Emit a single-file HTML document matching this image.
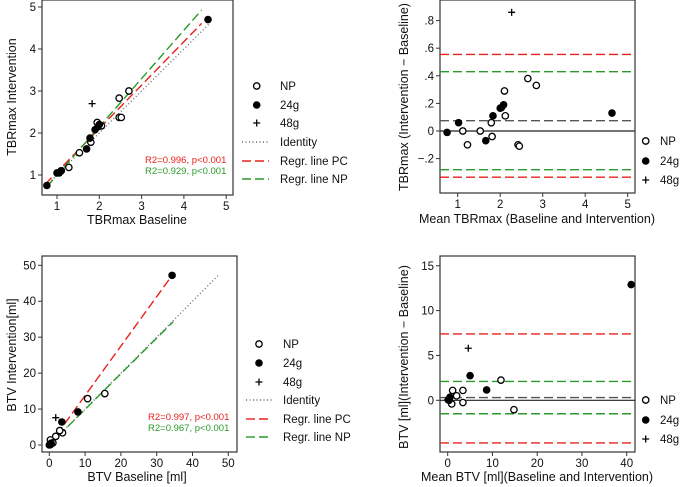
<!DOCTYPE html>
<html><head><meta charset="utf-8"><style>
body{margin:0;background:#fff;}
svg{display:block;font-family:"Liberation Sans",sans-serif;}
</style></head><body>
<svg id="fig" width="685" height="487" viewBox="0 0 685 487"></svg>
<script>
// Panel A: TBRmax scatter
const aNPx=[1.1,1.28,1.53,1.8,1.95,2.05,2.47,2.47,2.52,2.7];
const aNPy=[1.1,1.18,1.53,1.78,2.25,2.17,2.83,2.37,2.37,3.0];
const a24x=[0.76,1.0,1.05,1.1,1.7,1.78,1.9,1.97,2.0,4.57];
const a24y=[0.75,1.05,1.05,1.1,1.62,1.88,2.08,2.15,2.2,4.7];
const a48x=[1.83];const a48y=[2.7];
const aIdent=[0.75,4.6];
const aRedX=[0.72,4.42];const aRedY=[0.78,4.61];
const aGrnX=[0.76,4.42];const aGrnY=[0.72,4.93];
const aTicks=[1,2,3,4,5];
// Panel B: TBRmax Bland-Altman
const bNPx=[1.12,1.23,1.53,1.79,1.81,2.1,2.12,2.42,2.45,2.65,2.85];
const bNPy=[0,-0.1,0,0.06,-0.04,0.29,0.11,-0.1,-0.11,0.38,0.33];
const b24x=[0.75,1.02,1.66,1.83,2.0,2.03,2.08,4.63];
const b24y=[-0.01,0.06,-0.07,0.11,0.165,0.17,0.19,0.13];
const b48x=[2.27];const b48y=[0.86];
const bLines=[0.555,0.43,0.075,-0.28,-0.335];
const bLineColors=["#e8211d","#2a9a2a","#555","#2a9a2a","#e8211d"];
const bXTicks=[1,2,3,4,5];
const bYTicks=[0.8,0.6,0.4,0.2,0,-0.2];
const bYLabels=[".8",".6",".4",".2","0","−.2"];
// Panel C: BTV scatter
const cNPx=[15.5,10.7,3.7,2.9,1.8,0.3,1.0,0.5,0.2];
const cNPy=[14.3,12.9,3.4,4.0,2.4,1.4,0.6,0.3,0.1];
const c24x=[34.3,8,3.5,0.3,0.5,0];
const c24y=[47.2,9.2,6.4,0.1,0.5,0];
const c48x=[1.8];const c48y=[7.6];
const cIdent=[0,47.2];
const cRedX=[0,34.3];const cRedY=[0,47.2];
const cGrnX=[0,34.6];const cGrnY=[0,34.3];
const cTicks=[0,10,20,30,40,50];
// Panel D: BTV Bland-Altman
const dNPx=[11.9,14.8,3.4,3.4,1.1,2.0,0.9];
const dNPy=[2.25,-1.05,1.1,-0.25,1.1,0.5,-0.4];
const d24x=[41,5,8.7,0.3,0.5,0.1];
const d24y=[12.9,2.75,1.15,0,0.35,0.05];
const d48x=[4.6];const d48y=[5.8];
const dLines=[7.4,2.1,0.3,-1.5,-4.75];
const dXTicks=[0,10,20,30,40];
const dYTicks=[15,10,5,0];

const svg=document.getElementById('fig');
const NS="http://www.w3.org/2000/svg";
function el(tag,attrs,parent){const e=document.createElementNS(NS,tag);for(const k in attrs)e.setAttribute(k,attrs[k]);(parent||svg).appendChild(e);return e;}
function txt(s,x,y,attrs,parent){const t=el('text',Object.assign({x:x,y:y,'font-size':11.5,fill:'#111'},attrs),parent);t.textContent=s;return t;}

function panel(name,box){
  const g=el('g',{});
  
  
  const r=el('rect',{x:box[0],y:box[1],width:box[2]-box[0],height:box[3]-box[1],fill:'none',stroke:'#333','stroke-width':1.2},g);
  
  
  return g;
}
function xTicks(g,ticks,labels,sx,yb){
  ticks.forEach((t,i)=>{
    const x=sx(t);
    el('line',{x1:x,x2:x,y1:yb,y2:yb+4,stroke:'#333'},g);
    const l=txt(labels?labels[i]:String(t),x,yb+15,{'text-anchor':'middle'},g);
    
    
  });
}
function yTicks(g,ticks,labels,sy,xl){
  ticks.forEach((t,i)=>{
    const y=sy(t);
    el('line',{x1:xl-4,x2:xl,y1:y,y2:y,stroke:'#333'},g);
    const l=txt(labels?labels[i]:String(t),xl-6,y+4,{'text-anchor':'end'},g);
    
    
  });
}
function points(g,xs,ys,sx,sy,kind){
  xs.forEach((v,i)=>{
    const x=sx(v),y=sy(ys[i]);let p;
    if(kind==='open')p=el('circle',{cx:x,cy:y,r:3.2,fill:'#fff',stroke:'#000','stroke-width':1.3},g);
    else if(kind==='filled')p=el('circle',{cx:x,cy:y,r:3.8,fill:'#000'},g);
    else p=el('path',{d:`M${x-3.5} ${y}H${x+3.5}M${x} ${y-3.5}V${y+3.5}`,stroke:'#000','stroke-width':1.3},g);
    
    
  });
}
function legend(g,x0,xt,ys,withLines,lx1,lx2){
  const names=['NP','24g','48g','Identity','Regr. line PC','Regr. line NP'];
  const kinds=['open','filled','plus'];
  for(let i=0;i<(withLines?6:3);i++){
    const y=ys[i];
    if(i<3)points(g,[0],[0],()=>x0,()=>y,kinds[i]);
    else{
      const st=i===3?{stroke:'#666','stroke-dasharray':'1 2.5'}:{stroke:i===4?'#e8211d':'#2a9a2a','stroke-dasharray':'9 4'};
      el('line',Object.assign({x1:lx1,x2:lx2,y1:y,y2:y,'stroke-width':1.4},st),g);
    }
    const t=txt(names[i],xt,y+4,{'font-size':11.5},g);
    
    
  }
}
function title(g,s,x,y,rot){
  const t=txt(s,x,y,{'text-anchor':'middle','font-size':12.5,transform:rot?`rotate(-90 ${x} ${y})`:''},g);
  
  
}

// ---- Panel A
{
  const sx=v=>14.7+42.3*v, sy=v=>175-42*(v-1);
  const g=panel('tbr-scatter-panel',[42,0,233,195]);
  xTicks(g,aTicks,null,sx,195);yTicks(g,aTicks,null,sy,42);
  el('line',{x1:sx(aIdent[0]),y1:sy(aIdent[0]),x2:sx(aIdent[1]),y2:sy(aIdent[1]),stroke:'#666','stroke-width':1.3,'stroke-dasharray':'1 2.5'},g);
  el('line',{x1:sx(aRedX[0]),y1:sy(aRedY[0]),x2:sx(aRedX[1]),y2:sy(aRedY[1]),stroke:'#e8211d','stroke-width':1.4,'stroke-dasharray':'9 4'},g);
  el('line',{x1:sx(aGrnX[0]),y1:sy(aGrnY[0]),x2:sx(aGrnX[1]),y2:sy(aGrnY[1]),stroke:'#2a9a2a','stroke-width':1.4,'stroke-dasharray':'9 4'},g);
  points(g,aNPx,aNPy,sx,sy,'open');points(g,a24x,a24y,sx,sy,'filled');points(g,a48x,a48y,sx,sy,'plus');
  txt('R2=0.996, p<0.001',145,163,{'font-size':9.5,fill:'#e8211d'},g);
  txt('R2=0.929, p<0.001',145,174,{'font-size':9.5,fill:'#2a9a2a'},g);
  legend(g,256.7,280,[86,105,123,142,161,179],true,242,269);
  title(g,'TBRmax Baseline',137,224,false);
  title(g,'TBRmax Intervention',16,97,true);
}
// ---- Panel B
{
  const sx=v=>415.2+42.5*v, sy=v=>131-138*v;
  const g=panel('tbr-bland-altman-panel',[440,0,635,193]);
  xTicks(g,bXTicks,null,sx,193);yTicks(g,bYTicks,bYLabels,sy,440);
  bLines.forEach((v,i)=>el('line',{x1:440,x2:635,y1:sy(v),y2:sy(v),stroke:bLineColors[i],'stroke-width':1.4,'stroke-dasharray':'9 4'},g));
  el('line',{x1:440,x2:635,y1:sy(0),y2:sy(0),stroke:'#222','stroke-width':1.2},g);
  points(g,bNPx,bNPy,sx,sy,'open');points(g,b24x,b24y,sx,sy,'filled');points(g,b48x,b48y,sx,sy,'plus');
  legend(g,645.7,660,[141,161,180],false);
  title(g,'Mean TBRmax (Baseline and Intervention)',537,223,false);
  title(g,'TBRmax (Intervention − Baseline)',408,97,true);
}
// ---- Panel C
{
  const sx=v=>49.3+3.58*v, sy=v=>445-3.594*v;
  const g=panel('btv-scatter-panel',[42,256,237,452]);
  xTicks(g,cTicks,null,sx,452);yTicks(g,cTicks,null,sy,42);
  el('line',{x1:sx(cIdent[0]),y1:sy(cIdent[0]),x2:sx(cIdent[1]),y2:sy(cIdent[1]),stroke:'#666','stroke-width':1.3,'stroke-dasharray':'1 2.5'},g);
  el('line',{x1:sx(cRedX[0]),y1:sy(cRedY[0]),x2:sx(cRedX[1]),y2:sy(cRedY[1]),stroke:'#e8211d','stroke-width':1.4,'stroke-dasharray':'9 4'},g);
  el('line',{x1:sx(cGrnX[0]),y1:sy(cGrnY[0]),x2:sx(cGrnX[1]),y2:sy(cGrnY[1]),stroke:'#2a9a2a','stroke-width':1.4,'stroke-dasharray':'9 4'},g);
  points(g,cNPx,cNPy,sx,sy,'open');points(g,c24x,c24y,sx,sy,'filled');points(g,c48x,c48y,sx,sy,'plus');
  txt('R2=0.997, p<0.001',148,420,{'font-size':9.5,fill:'#e8211d'},g);
  txt('R2=0.967, p<0.001',148,431,{'font-size':9.5,fill:'#2a9a2a'},g);
  legend(g,259,283,[344,363,382,400,419,437],true,246,272);
  title(g,'BTV Baseline [ml]',137,481,false);
  title(g,'BTV Intervention[ml]',16,355,true);
}
// ---- Panel D
{
  const sx=v=>447.7+4.475*v, sy=v=>400.3-8.97*v;
  const g=panel('btv-bland-altman-panel',[440,256,635,452]);
  xTicks(g,dXTicks,null,sx,452);yTicks(g,dYTicks,null,sy,440);
  dLines.forEach((v,i)=>el('line',{x1:440,x2:635,y1:sy(v),y2:sy(v),stroke:bLineColors[i],'stroke-width':1.4,'stroke-dasharray':'9 4'},g));
  el('line',{x1:440,x2:635,y1:sy(0),y2:sy(0),stroke:'#222','stroke-width':1.2},g);
  points(g,dNPx,dNPy,sx,sy,'open');points(g,d24x,d24y,sx,sy,'filled');points(g,d48x,d48y,sx,sy,'plus');
  legend(g,645.7,660,[400,420,439],false);
  title(g,'Mean BTV [ml](Baseline and Intervention)',537,481,false);
  title(g,'BTV [ml](Intervention − Baseline)',408,357,true);
}
</script>
</body></html>
